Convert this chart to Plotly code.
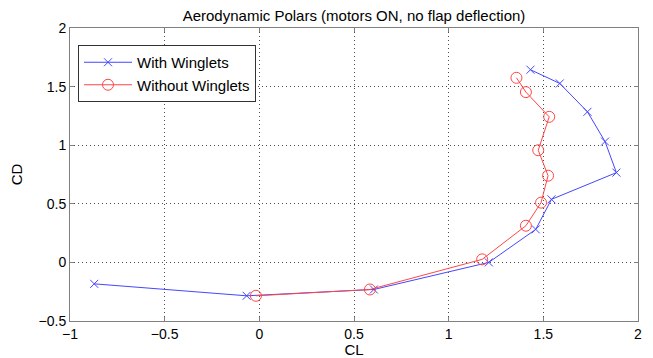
import plotly.graph_objects as go

cl_with = [-0.872, -0.067, 0.605, 1.212, 1.46, 1.543, 1.886, 1.826, 1.733, 1.587, 1.432]
cd_with = [-0.183, -0.285, -0.231, 0.0, 0.282, 0.538, 0.766, 1.031, 1.285, 1.527, 1.644]
cl_without = [-0.018, 0.584, 1.177, 1.408, 1.488, 1.525, 1.473, 1.531, 1.408, 1.358]
cd_without = [-0.285, -0.231, 0.026, 0.313, 0.51, 0.74, 0.957, 1.242, 1.453, 1.575]

x_ticks = [-1, -0.5, 0, 0.5, 1, 1.5, 2]
x_labels = ["−1", "−0.5", "0", "0.5", "1", "1.5", "2"]
y_ticks = [-0.5, 0, 0.5, 1, 1.5, 2]
y_labels = ["−0.5", "0", "0.5", "1", "1.5", "2"]

blue = "rgb(70,70,255)"
red = "rgb(255,70,70)"
FONT = "Liberation Sans, Arial"

fig = go.Figure()
fig.add_trace(go.Scatter(
    x=cl_with, y=cd_with, mode="lines+markers", name="With Winglets",
    line=dict(color=blue, width=1),
    marker=dict(symbol="x-thin-open", size=8, color=blue, line=dict(color=blue, width=1)),
))
fig.add_trace(go.Scatter(
    x=cl_without, y=cd_without, mode="lines+markers", name="Without Winglets",
    line=dict(color=red, width=1),
    marker=dict(symbol="circle-open", size=11, color=red, line=dict(color=red, width=1)),
))

axis_common = dict(
    showgrid=True, gridcolor="rgba(0,0,0,0.7)", griddash="1px,3px", gridwidth=1,
    zeroline=False, showline=True, linecolor="#808080", linewidth=1, mirror="ticks",
    ticks="inside", ticklen=4, tickcolor="#808080", automargin=False,
    tickfont=dict(family=FONT, size=14, color="black"),
)

# page body has an 8px default margin; compensate so the plot sits where the reference has it
OFF = 8
W, H = 653 - OFF, 358 - OFF
L, R, T, B = 70 - OFF, 15, 28 - OFF, 37
PH = H - T - B
fig.update_layout(
    width=W, height=H,
    margin=dict(l=L, r=R, t=T, b=B, autoexpand=False),
    paper_bgcolor="white", plot_bgcolor="white",
    title=dict(text="Aerodynamic Polars (motors ON, no flap deflection)",
               x=(L + W - R) / 2 / W, xanchor="center", y=1 - 2 / H, yanchor="top",
               pad=dict(t=0, b=0),
               font=dict(family=FONT, size=15, color="black")),
    xaxis=dict(range=[-1, 2], tickvals=x_ticks, ticktext=x_labels,
               title=dict(text="CL", standoff=2, font=dict(family=FONT, size=15, color="black")),
               **axis_common),
    yaxis=dict(range=[-0.5, 2], tickvals=y_ticks, ticktext=y_labels,
               title=dict(text="CD", standoff=12, font=dict(family=FONT, size=15, color="black")),
               **axis_common),
    legend=dict(x=(78 - 70) / (W - L - R), y=(321 - 45) / PH, xanchor="left", yanchor="top",
                bgcolor="white", bordercolor="#333", borderwidth=1,
                font=dict(family=FONT, size=15, color="black"),
                tracegroupgap=0, itemwidth=48),
    showlegend=True,
)

fig.write_html("out.html")
